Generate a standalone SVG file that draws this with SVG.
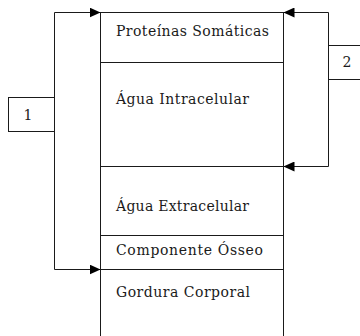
<svg xmlns="http://www.w3.org/2000/svg" width="360" height="336" viewBox="0 0 360 336">
<style>
.box{fill:#fff;stroke:#1a1a1a;stroke-width:1}
.con{fill:none;stroke:#1a1a1a;stroke-width:1}
text{font-family:"DejaVu Serif","Liberation Serif",serif;font-size:14px;fill:#1a1a1a}
</style>
<defs>
<marker id="ah" markerUnits="userSpaceOnUse" markerWidth="11" markerHeight="10" refX="11" refY="5" orient="auto">
<path d="M0,0 L11,5 L0,10 z" fill="#000"/>
</marker>
</defs>
<rect width="360" height="336" fill="#fff"/>
<g id="proteinas"><rect class="box" x="100.5" y="12.5" width="183" height="50"/><text x="116" y="36" textLength="153">Proteínas Somáticas</text></g>
<g id="agua-intra"><rect class="box" x="100.5" y="62.5" width="183" height="104"/><text x="116" y="104" textLength="133">Água Intracelular</text></g>
<g id="agua-extra"><rect class="box" x="100.5" y="166.5" width="183" height="69"/><text x="116" y="211" textLength="133">Água Extracelular</text></g>
<g id="osseo"><rect class="box" x="100.5" y="235.5" width="183" height="34"/><text x="116" y="255" textLength="147">Componente Ósseo</text></g>
<g id="gordura"><rect class="box" x="100.5" y="269.5" width="183" height="80"/><text x="116" y="297" textLength="134">Gordura Corporal</text></g>
<g id="box1"><rect class="box" x="8.5" y="97.5" width="46" height="34"/><text x="28" y="120" text-anchor="middle">1</text></g>
<g id="box2"><rect class="box" x="328.5" y="45.5" width="40" height="34"/><text x="347" y="67" text-anchor="middle">2</text></g>
<g id="connectors">
<path class="con" d="M54.5 97.5 V12.5 H100.5" marker-end="url(#ah)"/>
<path class="con" d="M54.5 131.5 V269.5 H100.5" marker-end="url(#ah)"/>
<path class="con" d="M328.5 45.5 V12.5 H283.5" marker-end="url(#ah)"/>
<path class="con" d="M328.5 79.5 V166.5 H283.5" marker-end="url(#ah)"/>
</g>
</svg>
